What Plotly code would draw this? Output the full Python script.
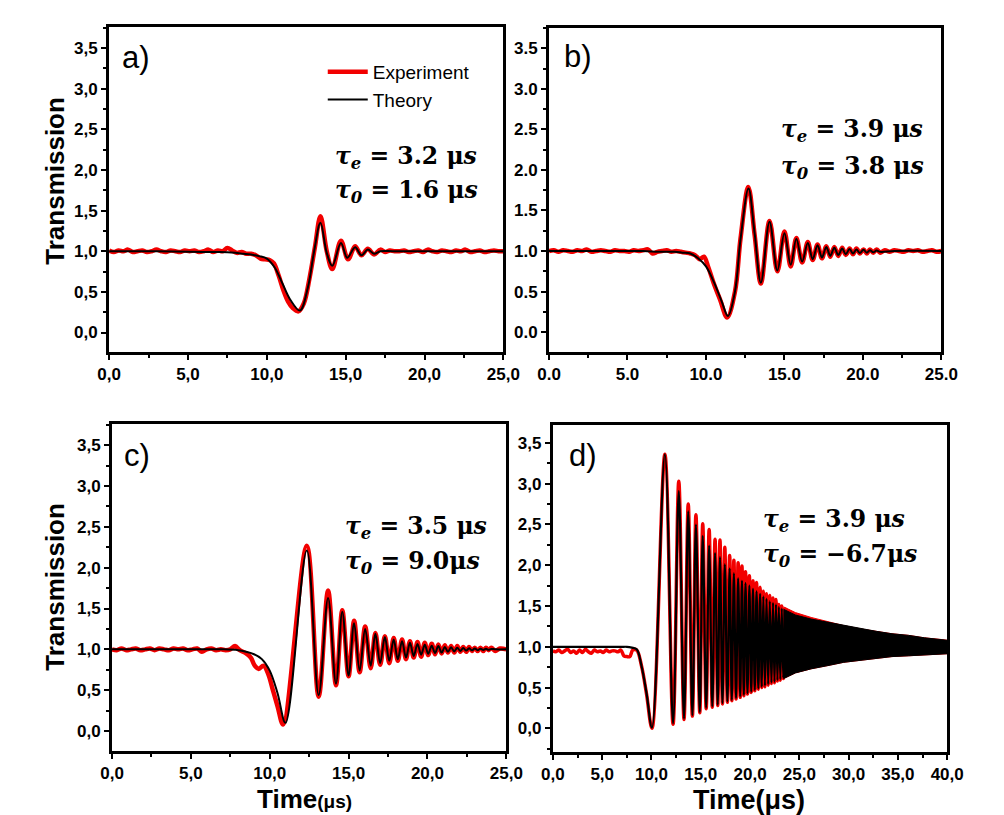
import plotly.graph_objects as go

W, H = 1004, 815

# ---------------- data ----------------
# Panel a
ta_exp = [0.0,0.3,0.6,0.9,1.2,1.5,1.8,2.1,2.4,2.7,3.0,3.3,3.6,3.9,4.2,4.5,4.8,5.1,5.4,5.7,
          6.0,6.3,6.6,6.9,7.2,7.5,7.8,8.1,8.4,8.7,9.0,9.3,9.6,9.9,10.2,
          10.45,10.75,11.05,11.35,11.65,12.0,12.35,12.7,13.05,13.4,13.8,14.15,14.7,15.15,15.6,16.0,16.4,16.8,17.2,
          17.5,17.8,18.1,18.4,18.7,19.0,19.3,19.6,19.9,20.2,20.5,20.8,21.1,21.4,21.7,22.0,22.3,22.6,22.9,23.2,
          23.5,23.8,24.1,24.4,24.7,25.0]
ya_exp = [1.01,0.99,1.01,1.0,1.02,0.99,1.0,1.01,0.99,1.0,1.02,1.0,0.99,1.01,1.0,0.99,1.01,1.0,1.01,0.99,
          1.0,1.02,0.99,1.01,1.0,1.04,1.01,0.98,0.99,0.97,0.97,0.95,0.91,0.9,0.89,
          0.85,0.7,0.52,0.38,0.3,0.26,0.36,0.66,1.05,1.43,1.0,0.78,1.13,0.9,1.06,0.95,1.03,0.96,1.02,
          0.99,1.01,1.0,1.0,1.01,0.99,1.0,1.01,0.99,1.02,1.0,0.99,1.01,1.0,0.99,1.01,1.0,1.02,0.99,1.0,
          1.01,0.99,1.0,1.01,1.0,1.0]
ta_th = [0, 3, 6, 7, 8, 8.5, 9, 9.5, 10, 10.5, 11, 11.5, 12.1, 12.6, 13.0, 13.4, 13.8, 14.15, 14.7,
         15.1, 15.6, 16.0, 16.4, 16.8, 17.2, 18, 20, 25]
ya_th = [1.0, 1.0, 0.99, 0.99, 0.98, 0.97, 0.96, 0.94, 0.91, 0.8, 0.6, 0.4, 0.27, 0.55, 1.0, 1.35, 0.98,
         0.82, 1.1, 0.92, 1.05, 0.95, 1.02, 0.97, 1.0, 1.0, 1.0, 1.0]

# Panel b
tb_exp = [0.0,0.3,0.6,0.9,1.2,1.5,1.8,2.1,2.4,2.7,3.0,3.3,3.6,3.9,4.2,4.5,4.8,5.1,5.4,5.7,
          6.0,6.3,6.6,6.9,7.2,7.5,7.8,8.1,8.4,8.7,9.0,9.3,
          9.6,9.87,10.15,10.5,10.9,11.35,11.85,12.2,12.7,13.1,13.5,14.05,14.55,15.0,15.4,15.76,16.13,16.49,
          16.8,17.11,17.39,17.67,17.92,18.18,18.43,18.68,18.91,19.15,19.37,19.59,19.81,20.04,20.25,20.45,
          20.66,20.87,21.1,
          21.4,21.7,22.0,22.3,22.6,22.9,23.2,23.5,23.8,24.1,24.4,24.7,25.0]
yb_exp = [1.0,1.01,0.99,1.01,1.0,0.99,1.01,1.0,1.02,0.99,1.0,1.01,1.0,0.99,1.01,1.0,1.0,0.99,1.01,1.0,
          1.01,1.02,0.97,0.99,1.0,1.01,0.99,1.0,0.99,0.98,0.97,0.95,
          0.9,0.93,0.8,0.6,0.4,0.18,0.5,1.15,1.79,1.2,0.6,1.37,0.75,1.24,0.81,1.16,0.86,1.11,
          0.89,1.08,0.91,1.06,0.93,1.05,0.94,1.04,0.95,1.03,0.96,1.03,0.97,1.02,0.97,1.02,
          0.98,1.02,0.98,
          1.01,0.99,1.01,1.0,0.99,1.01,1.0,1.01,0.99,1.0,1.01,0.99,1.0]
tb_th = [0, 4, 6, 7, 8, 8.5, 9, 9.5, 10, 10.5, 11, 11.4, 11.85, 12.2, 12.71, 13.1, 13.5, 14.05, 14.55, 15.0,
         15.4, 15.76, 16.13, 16.49, 16.8, 17.11, 17.39, 17.67, 17.92, 18.18, 18.43, 18.68, 18.91, 19.15,
         19.37, 19.59, 19.81, 20.04, 20.25, 20.45, 20.66, 20.87, 21.1, 22, 25]
yb_th = [1.0, 1.0, 1.0, 0.99, 0.99, 0.98, 0.97, 0.91, 0.81, 0.62, 0.38, 0.2, 0.5, 1.14, 1.77, 1.22, 0.61,
         1.36, 0.76, 1.22, 0.83, 1.15, 0.87, 1.10, 0.9, 1.07, 0.92, 1.05, 0.94, 1.04, 0.95, 1.03, 0.96,
         1.025, 0.97, 1.02, 0.975, 1.015, 0.98, 1.01, 0.985, 1.005, 0.99, 1.0, 1.0]

# Panel c
tc_exp = [0.0,0.3,0.6,0.9,1.2,1.5,1.8,2.1,2.4,2.7,3.0,3.3,3.6,3.9,4.2,4.5,4.8,5.1,5.4,5.7,
          6.0,6.3,6.6,6.9,7.2,7.5,
          7.8,8.1,8.5,8.8,9.05,9.3,9.6,9.9,10.2,10.5,10.85,
          12.35,13.1,13.7,14.2,14.6,15.0,15.35,15.7,16.05,16.4,16.7,17.0,17.3,17.58,17.86,18.12,18.39,18.64,
          18.89,19.13,19.37,19.6,19.83,20.05,20.27,20.48,20.69,20.9,21.1,21.3,21.5,21.7,21.89,22.08,22.27,
          22.46,22.64,22.82,23.0,23.18,23.36,23.54,23.71,23.88,24.05,
          24.3,24.6,25.0]
yc_exp = [1.0,0.99,1.01,0.99,1.0,1.01,0.99,1.0,1.01,0.99,1.01,1.0,0.99,1.01,1.0,1.01,0.99,1.0,1.01,0.97,
          1.0,1.01,0.99,1.0,0.99,1.0,
          1.04,0.99,0.95,0.9,0.8,0.76,0.8,0.7,0.5,0.3,0.08,
          2.27,0.42,1.72,0.56,1.48,0.67,1.35,0.72,1.28,0.77,1.2,0.81,1.16,0.83,1.14,0.86,1.12,0.88,
          1.1,0.9,1.09,0.91,1.08,0.93,1.07,0.94,1.06,0.95,1.05,0.96,1.04,0.96,1.04,0.97,1.03,
          0.97,1.03,0.98,1.02,0.98,1.02,0.98,1.02,0.99,1.02,
          0.98,1.01,1.0]
tc_th = [0, 5, 6, 7, 8, 8.5, 9, 9.5, 10, 10.5, 11.0, 12.35, 13.1, 13.7, 14.2, 14.6, 15.0, 15.35, 15.7, 16.05,
         16.4, 16.7, 17.0, 17.3, 17.58, 17.86, 18.12, 18.39, 18.64, 18.89, 19.13, 19.37, 19.6, 19.83, 20.05,
         20.27, 20.48, 20.69, 20.9, 21.1, 21.3, 21.5, 21.7, 21.89, 22.08, 22.27, 22.46, 22.64, 22.82, 23.0,
         23.18, 23.36, 23.54, 23.71, 23.88, 24.05, 24.3, 25]
yc_th = [1.0, 1.0, 1.0, 1.0, 0.99, 0.97, 0.94, 0.88, 0.74, 0.46, 0.1, 2.21, 0.44, 1.63, 0.58, 1.46, 0.68,
         1.32, 0.74, 1.25, 0.8, 1.19, 0.83, 1.15, 0.86, 1.12, 0.88, 1.1, 0.9, 1.08, 0.92, 1.065, 0.935,
         1.055, 0.945, 1.045, 0.955, 1.04, 0.96, 1.03, 0.97, 1.025, 0.975, 1.02, 0.98, 1.015, 0.985, 1.012,
         0.988, 1.01, 0.99, 1.008, 0.992, 1.006, 0.994, 1.005, 1.0, 1.0]

# Panel d
td_exp = [0.0,0.3,0.6,0.9,1.2,1.5,1.8,2.1,2.4,2.7,3.0,3.3,3.6,3.9,4.2,4.5,4.8,5.1,5.4,5.7,
          6.0,6.3,6.6,6.9,7.2,7.5,7.8,
          8.1,8.5,9.0,9.5,10.05,
          11.36,12.19,12.77,13.3,13.73,14.15,14.51,14.9,15.2,15.55,15.85,16.17,16.45,16.72,16.95,17.2,17.44,
          17.7,17.93,18.15,18.36,18.58,18.79,19.0,19.18,19.37,19.54,19.74,19.93,20.12,20.3,20.48,20.66,
          20.84,21.02,21.19,21.35,21.51,21.67,21.84,22.0,22.17,22.33,22.48,22.63,22.78,22.92,23.07,23.22,
          23.37,23.52]
yd_exp = [0.95,0.94,0.96,0.93,0.95,0.97,0.93,0.95,0.92,0.96,0.93,0.97,0.94,0.92,0.96,0.94,0.95,0.93,0.96,0.94,
          0.95,0.95,0.94,0.96,0.89,0.88,0.88,
          0.96,0.96,0.76,0.42,0.0,
          3.36,0.05,3.03,0.11,2.75,0.15,2.62,0.19,2.51,0.24,2.44,0.26,2.32,0.28,2.31,0.3,2.22,
          0.32,2.12,0.34,2.06,0.36,2.03,0.38,1.99,0.4,1.92,0.42,1.87,0.44,1.81,0.46,1.79,
          0.48,1.73,0.5,1.68,0.51,1.65,0.53,1.63,0.55,1.6,0.56,1.58,0.58,1.52,0.59,1.5,
          0.61,1.48]
td_th = [0, 6, 7, 7.5, 8, 8.5, 9, 9.5, 10.05, 11.36, 12.19, 12.77, 13.3, 13.73, 14.15, 14.51, 14.9, 15.2,
         15.55, 15.85, 16.17, 16.45, 16.72, 16.95, 17.2, 17.44, 17.7, 17.93, 18.15, 18.36, 18.58, 18.79, 19.0,
         19.18, 19.37, 19.54, 19.74, 19.93, 20.12, 20.3, 20.48, 20.66, 20.84, 21.02, 21.19, 21.35, 21.51,
         21.67, 21.84, 22.0, 22.17, 22.33, 22.48, 22.63, 22.78, 22.92, 23.07, 23.22, 23.37, 23.52]
yd_th = [1.0, 1.0, 1.0, 1.0, 0.99, 0.97, 0.76, 0.43, 0.01, 3.36, 0.06, 2.91, 0.12, 2.66, 0.16, 2.5, 0.2,
         2.36, 0.25, 2.24, 0.27, 2.15, 0.29, 2.1, 0.31, 2.01, 0.33, 1.96, 0.35, 1.9, 0.37, 1.84, 0.39, 1.81,
         0.41, 1.78, 0.43, 1.75, 0.45, 1.71, 0.47, 1.68, 0.49, 1.65, 0.51, 1.62, 0.52, 1.59, 0.54, 1.56,
         0.56, 1.54, 0.57, 1.52, 0.59, 1.49, 0.6, 1.47, 0.62, 1.45]
# unresolved dense oscillation band (envelopes) in panel d
band_t = [23.4, 24.6, 26.2, 27.9, 29.5, 31.2, 32.8, 34.4, 36.1, 37.7, 39.4, 40.0]
band_hi_th = [1.46, 1.39, 1.34, 1.3, 1.26, 1.22, 1.19, 1.16, 1.14, 1.11, 1.09, 1.08]
band_hi_exp = [1.49, 1.42, 1.36, 1.31, 1.26, 1.22, 1.19, 1.16, 1.14, 1.11, 1.09, 1.08]
band_lo = [0.61, 0.68, 0.73, 0.77, 0.81, 0.84, 0.86, 0.88, 0.89, 0.905, 0.91, 0.915]

# tick labels
x25_vals = [0, 5, 10, 15, 20, 25]
x25_comma = ["0,0", "5,0", "10,0", "15,0", "20,0", "25,0"]
x25_dot = ["0.0", "5.0", "10.0", "15.0", "20.0", "25.0"]
x40_vals = [0, 5, 10, 15, 20, 25, 30, 35, 40]
x40_comma = ["0,0", "5,0", "10,0", "15,0", "20,0", "25,0", "30,0", "35,0", "40,0"]
y_vals = [0, 0.5, 1.0, 1.5, 2.0, 2.5, 3.0, 3.5]
y_comma = ["0,0", "0,5", "1,0", "1,5", "2,0", "2,5", "3,0", "3,5"]
y_dot = ["0.0", "0.5", "1.0", "1.5", "2.0", "2.5", "3.0", "3.5"]

RED = "#f20000"
BLACK = "#000000"

fig = go.Figure()

def add_pair(tx, ty, ex, ey, xa, ya, legend=False, rw=4.5, bw=2.0):
    fig.add_trace(go.Scatter(x=ex, y=ey, mode="lines", name="Experiment",
                             line=dict(color=RED, width=rw, shape="spline", smoothing=1.0),
                             xaxis=xa, yaxis=ya, showlegend=legend))
    fig.add_trace(go.Scatter(x=tx, y=ty, mode="lines", name="Theory",
                             line=dict(color=BLACK, width=bw, shape="spline", smoothing=1.0),
                             xaxis=xa, yaxis=ya, showlegend=legend))

add_pair(ta_th, ya_th, ta_exp, ya_exp, "x", "y", legend=True)
add_pair(tb_th, yb_th, tb_exp, yb_exp, "x2", "y2")
add_pair(tc_th, yc_th, tc_exp, yc_exp, "x3", "y3")

# panel d: experiment line, red band, theory line, black band
fig.add_trace(go.Scatter(x=td_exp, y=yd_exp, mode="lines",
                         line=dict(color=RED, width=3.5, shape="spline", smoothing=1.0),
                         xaxis="x4", yaxis="y4", showlegend=False))
fig.add_trace(go.Scatter(x=band_t + band_t[::-1], y=band_hi_exp + band_lo[::-1], mode="lines",
                         fill="toself", fillcolor=RED, line=dict(color=RED, width=1),
                         xaxis="x4", yaxis="y4", showlegend=False))
fig.add_trace(go.Scatter(x=td_th, y=yd_th, mode="lines",
                         line=dict(color=BLACK, width=2.2, shape="spline", smoothing=1.0),
                         xaxis="x4", yaxis="y4", showlegend=False))
fig.add_trace(go.Scatter(x=band_t + band_t[::-1], y=band_hi_th + band_lo[::-1], mode="lines",
                         fill="toself", fillcolor=BLACK, line=dict(color=BLACK, width=1),
                         xaxis="x4", yaxis="y4", showlegend=False))

TICKFONT = dict(family="Liberation Sans, Arial, sans-serif", size=17, color="black", weight="bold")

def px_dom_x(a, b):
    return [a / W, b / W]

def px_dom_y(top, bottom):
    return [1 - bottom / H, 1 - top / H]

def xax(dom, rng, vals, text, anchor):
    return dict(domain=dom, range=rng, anchor=anchor, tickmode="array", tickvals=vals, ticktext=text,
                showline=True, linewidth=3, linecolor="black", mirror=True, ticks="outside",
                ticklen=5, tickwidth=2, tickcolor="black", showgrid=False, zeroline=False,
                tickfont=TICKFONT,
                minor=dict(ticks="outside", ticklen=3, tickwidth=2, tickcolor="black",
                           dtick=2.5, tick0=0, showgrid=False))

def yax(dom, rng, vals, text, anchor):
    return dict(domain=dom, range=rng, anchor=anchor, tickmode="array", tickvals=vals, ticktext=text,
                showline=True, linewidth=3, linecolor="black", mirror=True, ticks="outside",
                ticklen=5, tickwidth=2, tickcolor="black", showgrid=False, zeroline=False,
                tickfont=TICKFONT,
                minor=dict(ticks="outside", ticklen=3, tickwidth=2, tickcolor="black",
                           dtick=0.25, tick0=0, showgrid=False))

fig.update_layout(
    width=W, height=H, margin=dict(l=0, r=0, t=0, b=0),
    paper_bgcolor="white", plot_bgcolor="white",
    xaxis=xax(px_dom_x(100, 506), [0, 25], x25_vals, x25_comma, "y"),
    yaxis=yax(px_dom_y(27, 352), [-0.24, 3.76], y_vals, y_comma, "x"),
    xaxis2=xax(px_dom_x(553, 957), [0, 25], x25_vals, x25_dot, "y2"),
    yaxis2=yax(px_dom_y(28, 352), [-0.245, 3.75], y_vals, y_dot, "x2"),
    xaxis3=xax(px_dom_x(103, 509), [0, 25], x25_vals, x25_comma, "y3"),
    yaxis3=yax(px_dom_y(424, 751), [-0.245, 3.76], y_vals, y_comma, "x3"),
    xaxis4=xax(px_dom_x(557, 963), [0, 40], x40_vals, x40_comma, "y4"),
    yaxis4=yax(px_dom_y(425, 752), [-0.29, 3.72], y_vals, y_comma, "x4"),
    legend=dict(x=320 / W, y=1 - 53 / H, xanchor="left", yanchor="top",
                bgcolor="rgba(0,0,0,0)", borderwidth=0, tracegroupgap=0, itemwidth=40,
                font=dict(family="Liberation Sans, Arial, sans-serif", size=19, color="black")),
)

ann = []
def text_px(x, y, text, size, family, xanchor="left", yanchor="middle", angle=0, weight=None):
    f = dict(family=family, size=size, color="black")
    if weight:
        f["weight"] = weight
    ann.append(dict(x=x / W, y=1 - y / H, xref="paper", yref="paper", text=text, showarrow=False,
                    xanchor=xanchor, yanchor=yanchor, textangle=angle, font=f))

SANS = "Liberation Sans, Arial, sans-serif"
SERIF = "DejaVu Serif, serif"

# panel letters
text_px(111, 57, "a)", 31, SANS)
text_px(566, 56, "b)", 31, SANS)
text_px(113, 455, "c)", 31, SANS)
text_px(571, 455, "d)", 31, SANS)

def tau(sub, val):
    return "<b><i>τ</i><sub><i>%s</i></sub> = %s<i>s</i></b>" % (sub, val)

TS = 23.5
text_px(331, 157, tau("e", "3.2 μ"), TS, SERIF)
text_px(331, 192, tau("0", "1.6 μ"), TS, SERIF)
text_px(790, 131, tau("e", "3.9 μ"), TS, SERIF)
text_px(790, 167, tau("0", "3.8 μ"), TS, SERIF)
text_px(341, 527, tau("e", "3.5 μ"), TS, SERIF)
text_px(341, 562, tau("0", "9.0μ"), TS, SERIF)
text_px(771, 520, tau("e", "3.9 μ"), TS, SERIF)
text_px(771, 555, tau("0", "−6.7μ"), TS, SERIF)

# axis titles
text_px(44, 181, "<b>Transmission</b>", 26, SANS, xanchor="center", angle=-90)
text_px(44, 587, "<b>Transmission</b>", 26, SANS, xanchor="center", angle=-90)
text_px(301, 799, "<b>Time<span style='font-size:19px'>(μs)</span></b>", 26, SANS, xanchor="center")
text_px(759, 800, "<b>Time(μs)</b>", 27, SANS, xanchor="center")

fig.update_layout(annotations=ann)

fig.write_html("out.html")
